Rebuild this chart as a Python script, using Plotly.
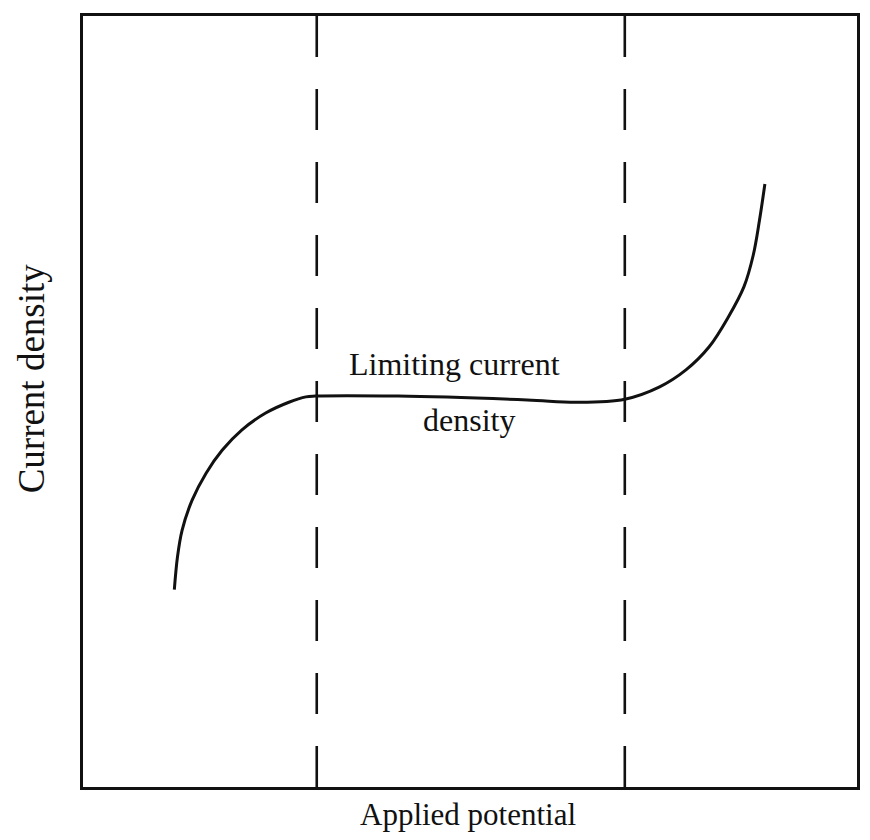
import plotly.graph_objects as go

# Schematic polarization curve (arbitrary units, 0-100 on both axes)
potential = [11.8, 12.2, 12.8, 14.1, 15.9, 18.0, 20.5, 23.6, 26.6, 28.8, 30.0,
             40.7, 57.4, 63.8, 70.0, 74.5, 77.9, 80.9, 83.4, 85.4, 86.6, 87.4, 88.1]
current = [25.6, 29.8, 33.3, 37.2, 40.7, 43.7, 46.3, 48.5, 49.9, 50.6, 50.7,
           50.7, 50.2, 49.9, 50.3, 51.9, 54.1, 57.1, 61.0, 64.9, 69.0, 73.5, 78.2]

# Boundaries of the limiting-current plateau
boundaries = [30.2, 70.0]
y_span = [100, 0]

fig = go.Figure()

for xb in boundaries:
    fig.add_trace(go.Scatter(
        x=[xb, xb], y=y_span, mode="lines",
        line=dict(color="#111111", width=2.6, dash="41px,32px"),
        hoverinfo="skip", showlegend=False))

fig.add_trace(go.Scatter(
    x=potential, y=current, mode="lines",
    line=dict(color="#111111", width=3, shape="spline", smoothing=1.0),
    hoverinfo="skip", showlegend=False))

font_family = "Liberation Serif, Times New Roman, serif"

fig.add_annotation(x=48.0, y=54.8, xref="x", yref="y", text="Limiting current",
                   showarrow=False, font=dict(family=font_family, size=32, color="#111111"))
fig.add_annotation(x=49.9, y=47.6, xref="x", yref="y", text="density",
                   showarrow=False, font=dict(family=font_family, size=32, color="#111111"))
fig.add_annotation(x=0.497, y=0, xref="paper", yref="paper", yshift=-27,
                   text="Applied potential", showarrow=False, yanchor="middle",
                   font=dict(family=font_family, size=31, color="#111111"))
fig.add_annotation(x=0, y=0.53, xref="paper", yref="paper", xshift=-52,
                   text="Current density", showarrow=False, textangle=-90,
                   xanchor="center", yanchor="middle",
                   font=dict(family=font_family, size=37, color="#111111"))

axis_common = dict(showgrid=False, zeroline=False, showticklabels=False, ticks="",
                   showline=True, mirror=True, linecolor="#111111", linewidth=2.6)

fig.update_xaxes(range=[0, 100], **axis_common)
fig.update_yaxes(range=[0, 100], **axis_common)

# The page body adds an 8px margin, so the figure is sized to fit inside the window
fig.update_layout(
    width=854, height=824,
    margin=dict(l=75, r=2, t=8, b=45),
    paper_bgcolor="white", plot_bgcolor="white",
)

fig.write_html("out.html")
